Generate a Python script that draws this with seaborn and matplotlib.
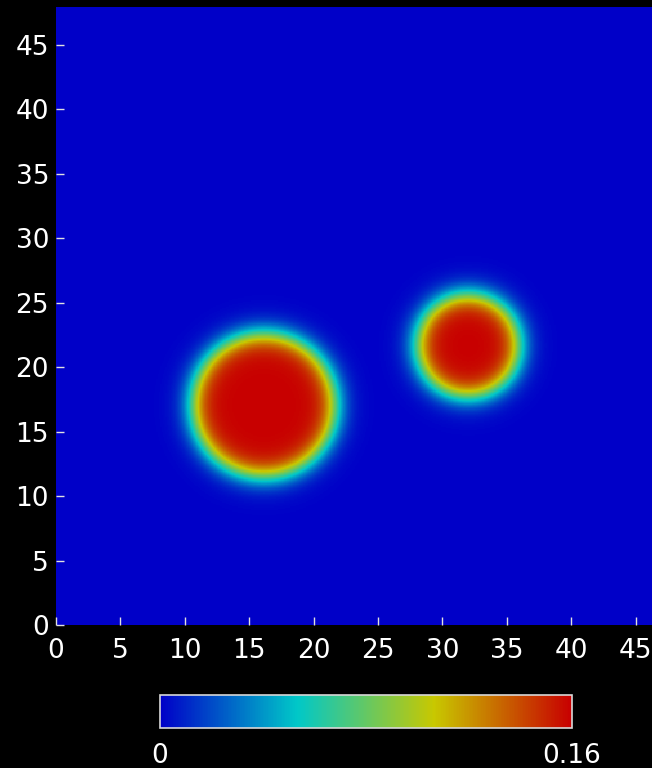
import numpy as np
import pandas as pd
import matplotlib
matplotlib.use("Agg")
import matplotlib.pyplot as plt
from matplotlib.colors import LinearSegmentedColormap
import seaborn as sns

# blobs (domain units)
blob_x = [16.15, 32.0]
blob_y = [17.05, 21.68]
blob_r = [5.5, 3.9]
interface_w = 1.1
c_max = 0.16

x_max = 46.27
y_max = 47.95
cell = 0.1

x_ticks = [0, 5, 10, 15, 20, 25, 30, 35, 40, 45]
y_ticks = [0, 5, 10, 15, 20, 25, 30, 35, 40, 45]
cbar_ticks = [0, 0.16]
cbar_labels = ["0", "0.16"]

cmap_pos = [0.0, 1 / 3, 2 / 3, 1.0]
cmap_cols = ["#0000c8", "#00c8c8", "#c8c800", "#c80000"]

xs = np.arange(0, x_max, cell) + cell / 2
ys = np.arange(0, y_max, cell) + cell / 2
X, Y = np.meshgrid(xs, ys)
field = np.zeros_like(X)
for bx, by, br in zip(blob_x, blob_y, blob_r):
    d = np.sqrt((X - bx) ** 2 + (Y - by) ** 2)
    field = np.maximum(field, 0.5 * c_max * (1 - np.tanh((d - br) / interface_w)))
df = pd.DataFrame(field)

cmap = LinearSegmentedColormap.from_list("pv", list(zip(cmap_pos, cmap_cols)))

plt.rcParams["font.family"] = ["DejaVu Sans"]
fig = plt.figure(figsize=(6.52, 7.68), dpi=100, facecolor="black")
ax = fig.add_axes([56 / 652, 143 / 768, 1 - 56 / 652, 618 / 768])
cax = fig.add_axes([160 / 652, 40 / 768, 411.5 / 652, 33 / 768])

sns.heatmap(df, ax=ax, cmap=cmap, vmin=0, vmax=c_max, cbar_ax=cax,
            cbar_kws={"orientation": "horizontal", "ticks": cbar_ticks},
            xticklabels=False, yticklabels=False, rasterized=True)
ax.set_xlim(0, x_max / cell)
ax.set_ylim(0, y_max / cell)
ax.set_xticks([t / cell for t in x_ticks])
ax.set_xticklabels([str(t) for t in x_ticks])
ax.set_yticks([t / cell for t in y_ticks])
ax.set_yticklabels([str(t) for t in y_ticks], rotation=0)
ax.tick_params(direction="in", length=6, width=1, color="#e0e0e0",
               labelcolor="white", labelsize=19, pad=5)
ax.tick_params(axis="x", pad=9)
for s in ax.spines.values():
    s.set_visible(False)
ax.set_facecolor("black")

cax.set_xticklabels(cbar_labels)
cax.tick_params(length=0, labelcolor="white", labelsize=19, pad=11)
cb = ax.collections[0].colorbar
cb.outline.set_edgecolor("#d8d8d8")
cb.outline.set_linewidth(1.2)

fig.savefig("out.png", dpi=100, facecolor="black")
